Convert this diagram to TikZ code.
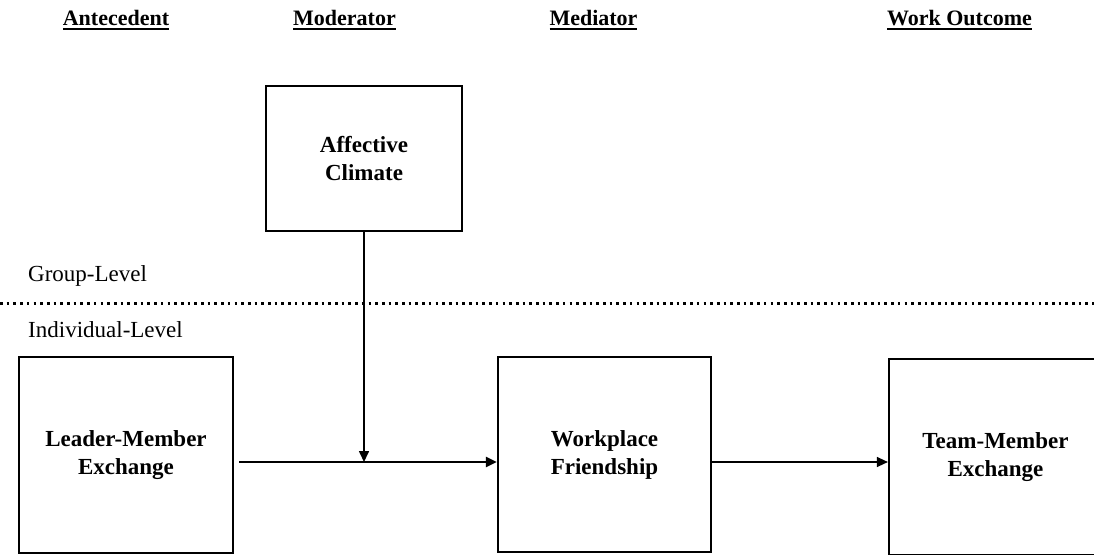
\documentclass[tikz,border=0pt]{standalone}
\usepackage{fontspec}
\setmainfont{Liberation Serif}
\usetikzlibrary{arrows.meta}
\newcommand{\headtext}[1]{\vtop{\hbox{#1}\kern2.5pt\hrule height 2.2pt}}
\tikzset{
  box/.style={draw, line width=2.2pt, inner sep=0pt, align=center, font=\bfseries\fontsize{23}{28}\selectfont},
  head/.style={anchor=base, inner sep=0pt, font=\bfseries\fontsize{22}{26}\selectfont},
  level/.style={anchor=base west, inner sep=0pt, font=\fontsize{23}{28}\selectfont},
  arr/.style={-{Triangle[length=11pt,width=10pt]}}
}
\begin{document}
\begin{tikzpicture}[x=1pt,y=-1pt]
    \useasboundingbox (0,0) rectangle (1094,554);
    \clip (0,0) rectangle (1094,554);
    % column heads
    \node[head] (ante) at (116,25) {\headtext{Antecedent}};
    \node[head] (moder) at (344.5,25) {\headtext{Moderator}};
    \node[head] (medi) at (593.5,25) {\headtext{Mediator}};
    \node[head] (outc) at (959.5,25) {\headtext{Work Outcome}};
    % levels
    \node[level] (group) at (28,281) {Group-Level};
    \node[level] (indiv) at (28,337) {Individual-Level};
    \path[draw, line width=3pt, dash pattern=on 2.6pt off 4.1pt] (0,303) -- (1094,303);
    % boxes
    \node[box, minimum width=196pt, minimum height=145pt] (climate) at (364,158.5) {Affective\\Climate};
    \node[box, minimum width=214pt, minimum height=196pt] (lmx) at (126,455) {Leader-Member\\Exchange};
    \node[box, minimum width=213pt, minimum height=195pt] (friend) at (604.5,454.5) {Workplace\\Friendship};
    \node[box, minimum width=213pt, minimum height=196pt] (tmx) at (995.5,457) {Team-Member\\Exchange};
    \coordinate (join) at (364,462);
    \path[draw, line width=2.2pt, arr] ([xshift=5pt]lmx.east |- join) -- (friend.west |- join);
    \path[draw, line width=1.6pt, arr] (climate.south) -- (join);
    \path[draw, line width=1.4pt, arr] (friend.east |- join) -- (tmx.west |- join);
\end{tikzpicture}
\end{document}
